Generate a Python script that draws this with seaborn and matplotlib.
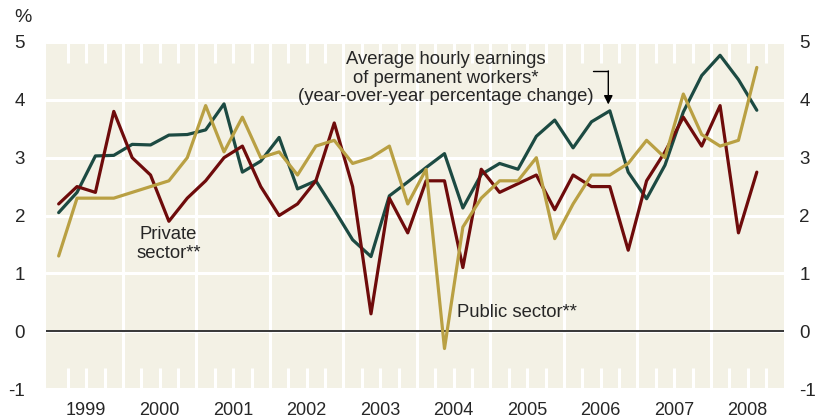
import matplotlib
matplotlib.use('Agg')
import matplotlib.pyplot as plt
import numpy as np
import pandas as pd
import seaborn as sns

quarters = pd.period_range('1999Q1', '2008Q3', freq='Q')

hourly_earnings = [2.05, 2.4, 3.03, 3.04, 3.23, 3.22, 3.39, 3.4, 3.48, 3.93,
                   2.75, 2.94, 3.35, 2.46, 2.6, 2.1, 1.58, 1.29, 2.34, 2.58,
                   2.83, 3.07, 2.13, 2.71, 2.9, 2.8, 3.37, 3.65, 3.17, 3.62,
                   3.81, 2.75, 2.29, 2.87, 3.79, 4.42, 4.77, 4.35, 3.82]
private_sector = [2.2, 2.5, 2.4, 3.8, 3.0, 2.7, 1.9, 2.3, 2.6, 3.0,
                  3.2, 2.5, 2.0, 2.2, 2.6, 3.6, 2.5, 0.3, 2.3, 1.7,
                  2.6, 2.6, 1.1, 2.8, 2.4, 2.55, 2.7, 2.1, 2.7, 2.5,
                  2.5, 1.4, 2.6, 3.1, 3.7, 3.2, 3.9, 1.7, 2.75]
public_sector = [1.3, 2.3, 2.3, 2.3, 2.4, 2.5, 2.6, 3.0, 3.9, 3.1,
                 3.7, 3.0, 3.1, 2.7, 3.2, 3.3, 2.9, 3.0, 3.2, 2.2,
                 2.8, -0.3, 1.8, 2.3, 2.6, 2.6, 3.0, 1.6, 2.2, 2.7,
                 2.7, 2.9, 3.3, 3.0, 4.1, 3.4, 3.2, 3.3, 4.56]

years = list(range(1999, 2009))
y_ticks = [-1, 0, 1, 2, 3, 4, 5]
y_labels = ['-1', '0', '1', '2', '3', '4', '5']

# quarter mid-points as decimal years
t = quarters.year + (quarters.quarter - 0.5) / 4

df = pd.DataFrame({
    't': np.tile(t, 3),
    'value': hourly_earnings + private_sector + public_sector,
    'series': ['hourly'] * 39 + ['private'] * 39 + ['public'] * 39,
})

colors = {'hourly': '#1c4a42', 'private': '#6e0b0b', 'public': '#b9a043'}
bg = '#f3f1e5'

sns.set_style('white')
plt.rcParams['font.family'] = ['Liberation Sans', 'DejaVu Sans']

fig = plt.figure(figsize=(8.16, 4.17), dpi=100)
ax = fig.add_axes([0.0564, 0.0671, 0.9044, 0.8322])
ax.set_facecolor(bg)

# grid: white lines at integer values and year boundaries
for v in y_ticks:
    ax.axhline(v, color='white', lw=2.2, zorder=1)
for yr in years[1:]:
    ax.axvline(yr, color='white', lw=2.2, zorder=1)
# short quarter ticks at top and bottom
for yr in years:
    for q in (1, 2, 3):
        ax.vlines(yr + q / 4, 5 - 0.37, 5, color='white', lw=2.2, zorder=1)
        ax.vlines(yr + q / 4, -1, -1 + 0.37, color='white', lw=2.2, zorder=1)

ax.axhline(0, color='black', lw=1.1, zorder=2)

sns.lineplot(data=df, x='t', y='value', hue='series', palette=colors,
             linewidth=2.3, legend=False, ax=ax, zorder=3)

ax.set_xlim(1998.953, 2008.995)
ax.set_ylim(-1, 5)
ax.set_xticks([yr + 0.5 for yr in years])
ax.set_xticklabels([str(yr) for yr in years])
ax.set_yticks(y_ticks)
ax.set_yticklabels(y_labels)
ax.tick_params(axis='y', length=0, labelsize=13.5, pad=15)
ax.tick_params(axis='x', length=0, labelsize=13, pad=9)
ax.set_xlabel('')
ax.set_ylabel('')
for s in ax.spines.values():
    s.set_visible(False)

# right-hand scale
ax2 = ax.twinx()
ax2.set_ylim(-1, 5)
ax2.set_yticks(y_ticks)
ax2.set_yticklabels(y_labels)
ax2.tick_params(axis='y', length=0, labelsize=13.5, pad=11)
for s in ax2.spines.values():
    s.set_visible(False)

fig.text(0.028, 0.957, '%', fontsize=14, ha='center', va='center')

ax.text(2004.396, 4.37,
        'Average hourly earnings\nof permanent workers*\n(year-over-year percentage change)',
        ha='center', va='center', fontsize=13.3, linespacing=1.12, zorder=4)
ax.plot([2006.392, 2006.604], [4.49, 4.49], color='black', lw=1, zorder=4)
ax.annotate('', xy=(2006.604, 3.92), xytext=(2006.604, 4.50),
            arrowprops=dict(arrowstyle='-|>', color='black', lw=1,
                            mutation_scale=13, shrinkA=0, shrinkB=0), zorder=4)

ax.text(2000.62, 1.5, 'Private\nsector**', ha='center', va='center',
        fontsize=13.3, linespacing=1.15, zorder=4)
ax.text(2004.545, 0.32, 'Public sector**', ha='left', va='center',
        fontsize=13.3, zorder=4)

fig.savefig('out.png', dpi=100, facecolor='white')
